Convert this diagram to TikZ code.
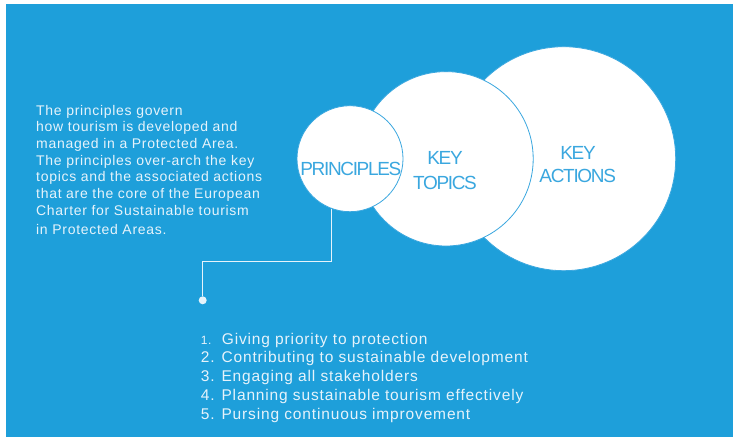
\documentclass[tikz,border=0pt]{standalone}
\usepackage{fontspec}
\setmainfont{Liberation Sans}
\newfontfamily\circfont[LetterSpace=-7]{Liberation Sans}
\newfontfamily\parafont[LetterSpace=5]{Liberation Sans}
\newfontfamily\listfont[LetterSpace=5.5]{Liberation Sans}
\definecolor{bg}{HTML}{1E9FDA}
\definecolor{ink}{HTML}{3AA7DF}
\definecolor{soft}{HTML}{E6F3FB}
\begin{document}
\begin{tikzpicture}[x=1pt,y=-1pt,
  circ/.style={circle, fill=white, draw=ink, line width=0.8pt, inner sep=0pt, minimum size=#1},
  ctext/.style={font=\circfont\fontsize{19}{19}\selectfont, text=ink, anchor=base, inner sep=0pt},
  ptext/.style={font=\parafont\fontsize{14}{14}\selectfont, text=soft, anchor=base west, inner sep=0pt},
  ltext/.style={font=\listfont\fontsize{15.5}{15.5}\selectfont, text=soft, anchor=base west, inner sep=0pt},
  conn/.style={draw=soft, line width=1.3pt},
  dotn/.style={circle, fill=soft, inner sep=0pt, minimum size=8pt}]
\useasboundingbox (0,0) rectangle (733,437);
\fill[bg] (6,4) rectangle (733,437);
% circles
\node[circ=224pt] (act) at (563.7,158.7) {};
\node[circ=174.4pt] (top) at (446,158.8) {};
\node[circ=106pt] (prin) at (350,158.7) {};
\node[ctext] (tprin) at (350.8,175) {PRINCIPLES};
\node[ctext] (tkey1) at (445,164) {KEY};
\node[ctext] (ttop) at (445,189.3) {TOPICS};
\node[ctext] (tkey2) at (578,159.3) {KEY};
\node[ctext] (tact) at (577.7,182.7) {ACTIONS};
% paragraph
\foreach \t/\y [count=\i] in {The principles govern/115,
  how tourism is developed and/131.7,
  managed in a Protected Area./148.3,
  The principles over-arch the key/165,
  topics and the associated actions/181.7,
  that are the core of the European/198.3,
  Charter for Sustainable tourism/215,
  in Protected Areas./234.5}
  \node[ptext] (p\i) at (36,\y) {\t};
% connector
\coordinate (bend) at (202.7,261.7);
\node[dotn] (dot) at (202.7,300.3) {};
\draw[conn] (prin.250) |- (bend) -- (dot);
% list
\foreach \t/\y [count=\i] in {{{\fontsize{12}{12}\selectfont 1.}\ \ Giving priority to protection}/344,
  {2. Contributing to sustainable development}/362.7,
  {3. Engaging all stakeholders}/381,
  {4. Planning sustainable tourism effectively}/400,
  {5. Pursing continuous improvement}/419.3}
  \node[ltext] (l\i) at (200.7,\y) {\t};
\end{tikzpicture}
\end{document}
